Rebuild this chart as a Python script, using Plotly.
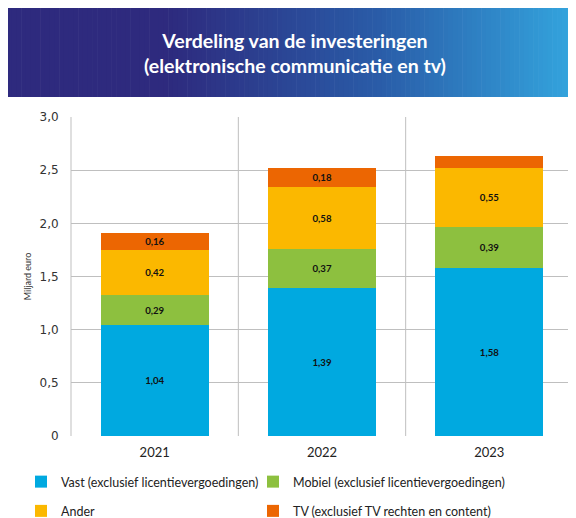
import plotly.graph_objects as go

years = ["2021", "2022", "2023"]
vast = [1.04, 1.39, 1.58]
mobiel = [0.29, 0.37, 0.39]
ander = [0.42, 0.58, 0.55]
tv = [0.16, 0.18, 0.11]
show_tv_label = [True, True, False]

series_names = ["Vast (exclusief licentievergoedingen)",
                "Mobiel (exclusief licentievergoedingen)",
                "Ander",
                "TV (exclusief TV rechten en content)"]
colors = ["#00A9E0", "#8DC03F", "#FBB800", "#EC6602"]

ytick_vals = [0, 0.5, 1.0, 1.5, 2.0, 2.5, 3.0]
ytick_text = ["0", "0,5", "1,0", "1,5", "2,0", "2,5", "3,0"]


def fmt(v):
    return "<b>" + f"{v:.2f}".replace(".", ",") + "</b>"


# the page body adds an 8px offset; work in reference pixels and subtract it
OFF = 8
W, H = 576 - OFF, 518 - OFF
L = 71 - OFF
T = 117 - OFF
B = H - (436 - OFF)
R = W - (573 - OFF)
PW, PH = W - L - R, H - T - B


def px_x(p):
    return (p - OFF - L) / PW


def px_y(p):
    return (H - B - (p - OFF)) / PH


fig = go.Figure()
data = [vast, mobiel, ander, tv]
legends = ["legend", "legend2", "legend", "legend2"]
for i, (name, vals) in enumerate(zip(series_names, data)):
    if i == 3:
        txt = [fmt(v) if s else "" for v, s in zip(vals, show_tv_label)]
    else:
        txt = [fmt(v) for v in vals]
    fig.add_trace(go.Bar(
        x=years, y=vals, name=name, marker=dict(color=colors[i], line=dict(width=0)),
        text=txt, textposition="inside", insidetextanchor="middle",
        textfont=dict(family="Lato", size=10.5, color="#111111"),
        textangle=0, width=0.645, legend=legends[i], legendgroup=name,
        hoverinfo="skip",
    ))

shapes = []
# gradient banner
x0p, x1p, y0p, y1p = 7, 576, 6, 97
n = 120
c_left = (46, 42, 126)
c_mid = (42, 92, 168)
c_right = (52, 166, 223)
for k in range(n):
    a = x0p + (x1p - x0p) * k / n
    b = x0p + (x1p - x0p) * (k + 1) / n + 0.6
    t = (k + 0.5) / n
    if t < 0.28:
        c = c_left
    elif t < 0.65:
        u = (t - 0.28) / 0.37
        c = tuple(c_left[j] + (c_mid[j] - c_left[j]) * u for j in range(3))
    else:
        u = (t - 0.65) / 0.35
        c = tuple(c_mid[j] + (c_right[j] - c_mid[j]) * u for j in range(3))
    shapes.append(dict(type="rect", xref="paper", yref="paper",
                       x0=px_x(a), x1=px_x(min(b, x1p)), y0=px_y(y1p), y1=px_y(y0p),
                       fillcolor="rgb(%d,%d,%d)" % c, line=dict(width=0), layer="below"))

# vertical separators at category boundaries
for k in range(len(years) + 1):
    xv = k / len(years)
    shapes.append(dict(type="line", xref="paper", yref="paper", x0=xv, x1=xv, y0=0, y1=1,
                       line=dict(color="#BFBFBF", width=1), layer="below"))

fig.update_layout(
    width=W, height=H,
    margin=dict(l=L, r=R, t=T, b=B, autoexpand=False),
    paper_bgcolor="white", plot_bgcolor="white",
    barmode="stack", bargap=0.355,
    shapes=shapes,
    font=dict(family="Lato", color="#222222"),
    annotations=[dict(
        text="<b>Verdeling van de investeringen<br>(elektronische communicatie en tv)</b>",
        xref="paper", yref="paper", x=px_x(295), y=px_y(53), showarrow=False,
        font=dict(family="Lato", size=19.5, color="white"), align="center",
        xanchor="center", yanchor="middle")],
    xaxis=dict(type="category", range=[-0.5, 2.5], showgrid=False, zeroline=False,
               showline=False, tickfont=dict(family="Lato", size=13, color="#222222"),
               ticks="outside", ticklen=4, tickcolor="rgba(0,0,0,0)", automargin=False),
    yaxis=dict(range=[0, 3.0], tickvals=ytick_vals, ticktext=ytick_text,
               showgrid=True, gridcolor="#BFBFBF", gridwidth=1, zeroline=False,
               showline=False, ticks="outside", ticklen=9, tickcolor="rgba(0,0,0,0)",
               tickfont=dict(family="DejaVu Sans", size=12, color="#333333"),
               automargin=False,
               title=dict(text="Miljard euro", font=dict(family="Lato", size=9, color="#333333"),
                          standoff=6)),
    legend=dict(x=px_x(21), y=px_y(467), xanchor="left", yanchor="top",
                orientation="v", traceorder="grouped", tracegroupgap=10,
                font=dict(family="Lato", size=12.5, color="#222222"), bgcolor="rgba(0,0,0,0)"),
    legend2=dict(x=px_x(253), y=px_y(467), xanchor="left", yanchor="top",
                 orientation="v", traceorder="grouped", tracegroupgap=10,
                 font=dict(family="Lato", size=12.5, color="#222222"), bgcolor="rgba(0,0,0,0)"),
    uniformtext=dict(minsize=8, mode="show"),
)

fig.write_html("out.html")
